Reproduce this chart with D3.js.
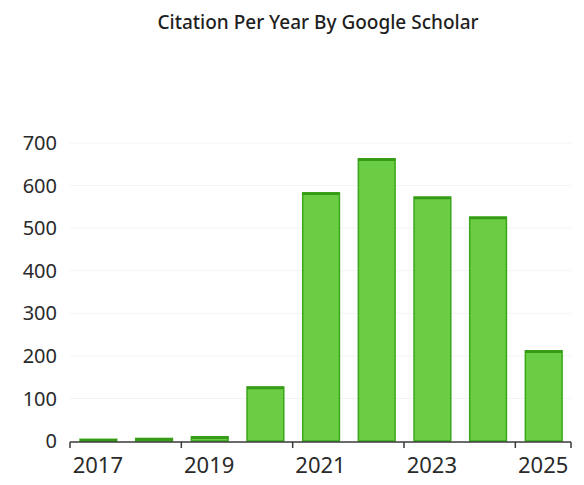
<!DOCTYPE html>
<html>
<head>
<meta charset="utf-8">
<script src="https://cdn.jsdelivr.net/npm/d3@7"></script>
<style>
  body { margin: 0; background: #fff; }
  svg { display: block; }
</style>
</head>
<body>
<div id="chart"></div>
<script>
// Citations per year
const years = ["2017", "2018", "2019", "2020", "2021", "2022", "2023", "2024", "2025"];
const citations = [4, 6, 10, 127, 583, 663, 573, 526, 212];
const yTicks = [0, 100, 200, 300, 400, 500, 600, 700];
const xLabels = ["2017", "2019", "2021", "2023", "2025"];

const width = 584, height = 485;

const svg = d3.select("#chart")
    .append("svg")
    .attr("width", width)
    .attr("height", height);

const x = d3.scaleBand()
    .domain(years)
    .range([70, 571]);

const y = d3.scaleLinear()
    .domain([0, 700])
    .range([441, 143]);

// title
svg.append("text")
    .attr("x", 318)
    .attr("y", 29)
    .attr("text-anchor", "middle")
    .attr("font-family", "Noto Sans")
    .attr("font-size", 19)
    .attr("font-weight", 500)
    .attr("fill", "#1e1e1e")
    .text("Citation Per Year By Google Scholar");

// faint grid
svg.append("g")
    .selectAll("line")
    .data(yTicks.filter(d => d > 0))
    .enter().append("line")
    .attr("x1", 70)
    .attr("x2", 571)
    .attr("y1", d => y(d))
    .attr("y2", d => y(d))
    .attr("stroke", "#f3f3f3")
    .attr("stroke-width", 1);

// y labels
svg.append("g")
    .selectAll("text")
    .data(yTicks)
    .enter().append("text")
    .attr("x", 57)
    .attr("y", d => y(d))
    .attr("dy", "0.36em")
    .attr("text-anchor", "end")
    .attr("font-family", "Noto Sans")
    .attr("font-size", 20)
    .attr("fill", "#2a2a2a")
    .text(d => d);

// bars
const bw = x.bandwidth();
const bars = svg.append("g")
    .selectAll("g")
    .data(years)
    .enter().append("g");

bars.append("rect")
    .attr("x", d => x(d) + bw * 0.18)
    .attr("width", bw * 0.66)
    .attr("y", (d, i) => y(citations[i]))
    .attr("height", (d, i) => y(0) - y(citations[i]))
    .attr("fill", "#6acd44")
    .attr("stroke", "#3aa61a")
    .attr("stroke-width", 1.5);

// darker top edge
bars.append("line")
    .attr("x1", d => x(d) + bw * 0.18)
    .attr("x2", d => x(d) + bw * 0.84)
    .attr("y1", (d, i) => y(citations[i]) + 1)
    .attr("y2", (d, i) => y(citations[i]) + 1)
    .attr("stroke", "#359a16")
    .attr("stroke-width", 2.5);

// x axis line and ticks at band edges
const axis = svg.append("g").attr("stroke", "#3a3a3a");
axis.append("line")
    .attr("x1", x.range()[0])
    .attr("x2", x.range()[1])
    .attr("y1", 442)
    .attr("y2", 442)
    .attr("stroke-width", 1.5);

const tickPos = years.filter((d, i) => i % 2 === 0).map(d => x(d)).concat([x.range()[1]]);
axis.selectAll(".tick")
    .data(tickPos)
    .enter().append("line")
    .attr("x1", d => d)
    .attr("x2", d => d)
    .attr("y1", 442)
    .attr("y2", 448)
    .attr("stroke-width", 1.5);

// x labels
svg.append("g")
    .selectAll("text")
    .data(xLabels)
    .enter().append("text")
    .attr("x", d => x(d) + bw / 2)
    .attr("y", 473)
    .attr("text-anchor", "middle")
    .attr("font-family", "Noto Sans")
    .attr("font-size", 22)
    .attr("fill", "#2a2a2a")
    .text(d => d);
</script>
</body>
</html>
